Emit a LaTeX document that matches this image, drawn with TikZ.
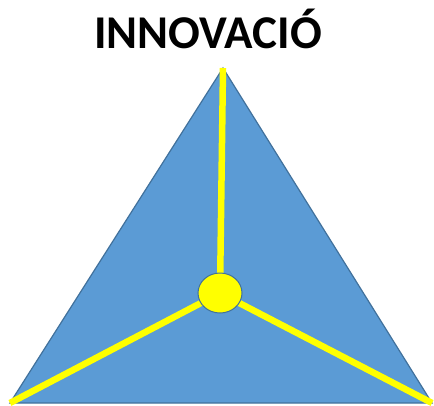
\documentclass[tikz,border=0pt]{standalone}
\usepackage{fontspec}
\setmainfont{Carlito}
\definecolor{triblue}{HTML}{5B9BD5}
\definecolor{edgeblue}{HTML}{41719C}
\definecolor{spoke}{HTML}{FFFF00}
\begin{document}
\begin{tikzpicture}[x=1pt, y=-1pt, every node/.style={font=\bfseries\fontsize{47}{52}\selectfont}]
  \useasboundingbox (0,0) rectangle (434,405);

  % title
  \node[anchor=base] (title) at (208,48) {INNOVACIÓ};

  % corners and centre
  \coordinate (top) at (223,68);
  \coordinate (left) at (10,403);
  \coordinate (right) at (432,403);
  \coordinate (mid) at (220,293);

  % triangle
  \draw[fill=triblue, draw=edgeblue, line width=1.2pt] (top) -- (left) -- (right) -- cycle;

  % yellow spokes
  \draw[spoke, line width=6.5pt] (mid) -- (top);
  \draw[spoke, line width=6.5pt] (mid) -- (left);
  \draw[spoke, line width=6.5pt] (mid) -- (right);

  % centre disc
  \draw[fill=spoke, draw=edgeblue, line width=1pt] (mid) ellipse (22 and 20);
\end{tikzpicture}
\end{document}
